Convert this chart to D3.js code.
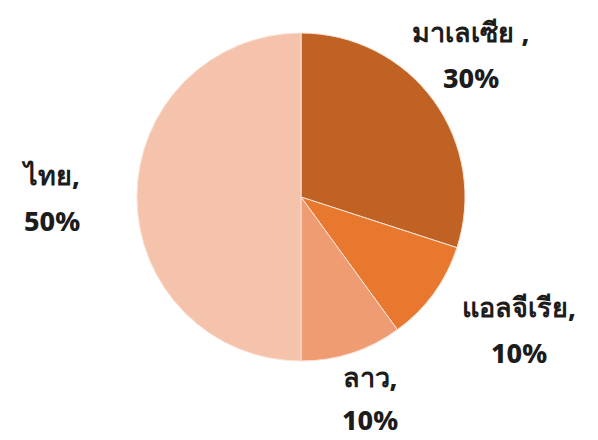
<!DOCTYPE html>
<html>
<head>
<meta charset="utf-8">
<script src="https://cdn.jsdelivr.net/npm/d3@7"></script>
<style>
  body { margin: 0; background: #fff; }
  text { font-family: "Noto Sans", "DejaVu Sans", sans-serif; font-weight: 800; fill: #1c1c1c; }
</style>
</head>
<body>
<svg id="chart" width="598" height="440"></svg>
<script>
// data
const countries = ["มาเลเซีย ,", "แอลจีเรีย,", "ลาว,", "ไทย,"];
const shares = [30, 10, 10, 50];
const colors = ["#bf6224", "#e9782f", "#f09c72", "#f5c3ab"];

// where each label sits, relative to pie centre (layout only)
const labelPos = [
  { x: 170, y: -155 },
  { x: 218, y: 120 },
  { x: 69, y: 190 },
  { x: -249, y: -12 },
];

const width = 598;
const height = 440;
const cx = 301, cy = 197, radius = 164;
const lineGap = 46;

const svg = d3.select("#chart");
const g = svg.append("g").attr("transform", `translate(${cx},${cy})`);

const pie = d3.pie().sort(null).value((d) => d.v);
const arc = d3.arc().innerRadius(0).outerRadius(radius);

const data = countries.map((c, i) => ({ name: c, v: shares[i], i }));

g.selectAll("path")
  .data(pie(data))
  .enter()
  .append("path")
  .attr("d", arc)
  .attr("fill", (d) => colors[d.data.i])
  .attr("stroke", "#fbe3d6")
  .attr("stroke-width", 1);

const labels = g.selectAll(".lbl")
  .data(data)
  .enter()
  .append("text")
  .attr("class", "lbl")
  .attr("text-anchor", "middle")
  .style("font-size", "27px");

labels.append("tspan")
  .attr("x", (d) => labelPos[d.i].x)
  .attr("y", (d) => labelPos[d.i].y)
  .text((d) => d.name);

labels.append("tspan")
  .attr("x", (d) => labelPos[d.i].x)
  .attr("y", (d) => labelPos[d.i].y + (d.i === 2 ? 43 : lineGap))
  .text((d) => d.v + "%");
</script>
</body>
</html>
